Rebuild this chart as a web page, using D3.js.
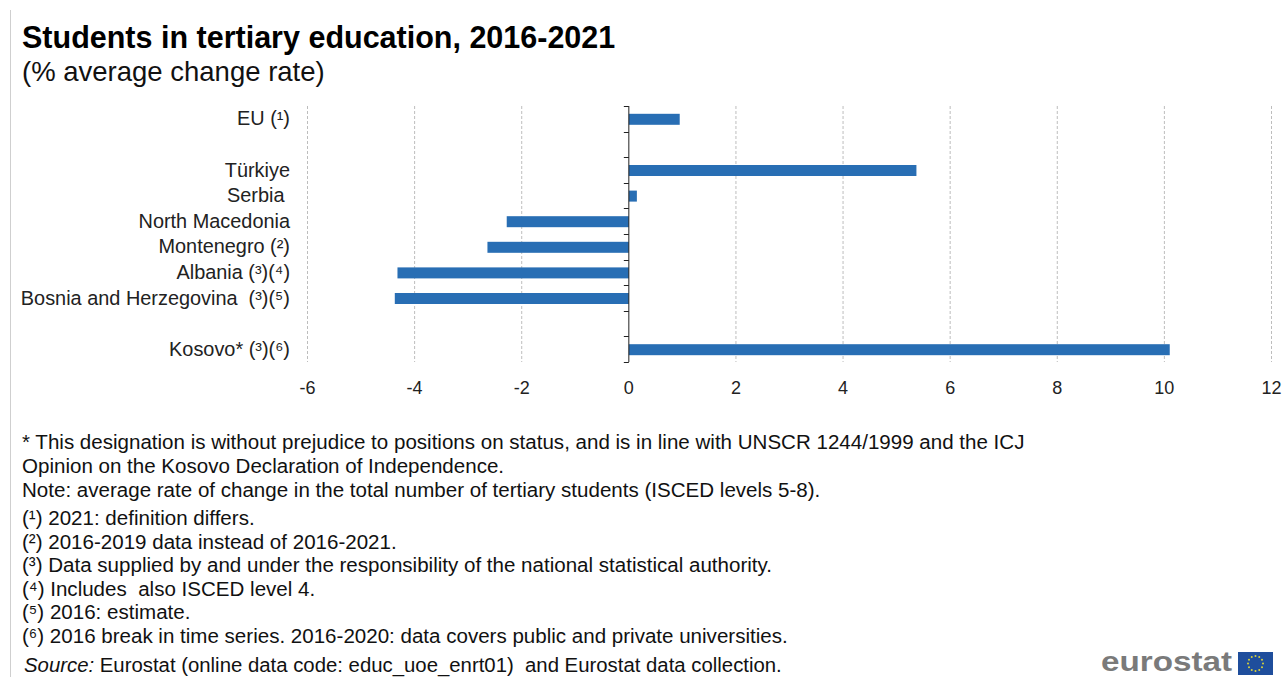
<!DOCTYPE html>
<html>
<head>
<meta charset="utf-8">
<script src="https://cdn.jsdelivr.net/npm/d3@7"></script>
<style>
html,body{margin:0;padding:0;background:#fff}
svg{display:block}
text{font-family:"Liberation Sans",Arial,sans-serif}
</style>
</head>
<body>
<svg id="chart" width="1287" height="677"></svg>
<script>
const categories = ["EU (¹)", "gap1", "Türkiye", "Serbia ", "North Macedonia", "Montenegro (²)", "Albania (³)(⁴)", "Bosnia and Herzegovina  (³)(⁵)", "gap2", "Kosovo* (³)(⁶)"];
const values = [0.95, null, 5.37, 0.15, -2.28, -2.64, -4.32, -4.37, null, 10.1];
const xTicks = [-6, -4, -2, 0, 2, 4, 6, 8, 10, 12];
const chartTitle = "Students in tertiary education, 2016-2021";
const chartSubtitle = "(% average change rate)";
const notesTop = [
  "* This designation is without prejudice to positions on status, and is in line with UNSCR 1244/1999 and the ICJ",
  "Opinion on the Kosovo Declaration of Independence.",
  "Note: average rate of change in the total number of tertiary students (ISCED levels 5-8)."
];
const notesNumbered = [
  "(¹) 2021: definition differs.",
  "(²) 2016-2019 data instead of 2016-2021.",
  "(³) Data supplied by and under the responsibility of the national statistical authority.",
  "(⁴) Includes  also ISCED level 4.",
  "(⁵) 2016: estimate.",
  "(⁶) 2016 break in time series. 2016-2020: data covers public and private universities."
];

const svg = d3.select("#chart");
const x = d3.scaleLinear().domain([-6, 12]).range([307.5, 1271.5]);
const y = d3.scaleBand().domain(categories).range([106.5, 362.5]);
const barHeight = 11;

// Frame rule on the left edge
svg.append("line").attr("x1", 10.5).attr("x2", 10.5).attr("y1", 10).attr("y2", 677)
  .attr("stroke", "#cfcfcf");

// Headings
svg.append("text").attr("x", 22).attr("y", 48).attr("font-size", 30.5).attr("font-weight", 700)
  .attr("fill", "#000").text(chartTitle);
svg.append("text").attr("x", 22).attr("y", 81).attr("font-size", 27.5)
  .attr("fill", "#111").text(chartSubtitle);

// Vertical dashed gridlines
svg.append("g").selectAll("line").data(xTicks.filter(d => d !== 0)).join("line")
  .attr("x1", d => x(d)).attr("x2", d => x(d))
  .attr("y1", 106).attr("y2", 362)
  .attr("stroke", "#bdbdbd").attr("stroke-dasharray", "3 2");

// Bars
svg.append("g").selectAll("rect")
  .data(categories.map((c, i) => ({c, v: values[i]})).filter(d => d.v !== null))
  .join("rect")
  .attr("x", d => Math.min(x(0), x(d.v)))
  .attr("width", d => Math.abs(x(d.v) - x(0)))
  .attr("y", d => y(d.c) + y.bandwidth() / 2 - barHeight / 2)
  .attr("height", barHeight)
  .attr("fill", "#286eb4");

// Category axis on the zero line, ticks between the bands
const axisY = svg.append("g");
axisY.append("line").attr("x1", x(0)).attr("x2", x(0)).attr("y1", 106).attr("y2", 362)
  .attr("stroke", "#222").attr("stroke-width", 1);
axisY.selectAll("line.tick").data(d3.range(categories.length + 1)).join("line")
  .attr("class", "tick")
  .attr("x1", x(0) - 5).attr("x2", x(0))
  .attr("y1", i => Math.round(106 + i * y.step()) + 0.5)
  .attr("y2", i => Math.round(106 + i * y.step()) + 0.5)
  .attr("stroke", "#222");

// Category labels, right aligned in the left margin
svg.append("g").selectAll("text")
  .data(categories.filter(c => !c.startsWith("gap"))).join("text")
  .attr("x", 290).attr("y", c => y(c) + y.bandwidth() / 2 + 6)
  .attr("text-anchor", "end").attr("font-size", 19.9).attr("fill", "#222")
  .style("white-space", "pre")
  .text(c => c);

// Value axis labels
svg.append("g").selectAll("text").data(xTicks).join("text")
  .attr("x", d => x(d)).attr("y", 394).attr("text-anchor", "middle")
  .attr("font-size", 18).attr("fill", "#222").text(d => d);

// Footnotes
const noteText = (lines, startY, step) => svg.append("g").selectAll("text").data(lines).join("text")
  .attr("x", 22).attr("y", (d, i) => startY + i * step)
  .attr("font-size", 20.55).attr("fill", "#111").style("white-space", "pre").text(d => d);
noteText(notesTop, 449, 24);
noteText(notesNumbered, 525, 23.6);

const source = svg.append("text").attr("x", 24).attr("y", 672).attr("font-size", 20.35)
  .attr("fill", "#111").style("white-space", "pre");
source.append("tspan").attr("font-style", "italic").text("Source:");
source.append("tspan").text(" Eurostat (online data code: educ_uoe_enrt01)  and Eurostat data collection.");

// Eurostat wordmark and flag
svg.append("text").attr("x", 1101).attr("y", 671).attr("font-size", 28).attr("font-weight", 700)
  .attr("textLength", 131).attr("lengthAdjust", "spacingAndGlyphs")
  .attr("fill", "#7a7a7a").text("eurostat");
svg.append("rect").attr("x", 1238).attr("y", 652).attr("width", 35).attr("height", 23).attr("fill", "#1f4e9c");
svg.append("g").selectAll("circle").data(d3.range(12)).join("circle")
  .attr("cx", i => 1255.5 + 7.5 * Math.cos(i * Math.PI / 6))
  .attr("cy", i => 663.5 + 7.5 * Math.sin(i * Math.PI / 6))
  .attr("r", 1).attr("fill", "#d8d23a");
</script>
</body>
</html>
